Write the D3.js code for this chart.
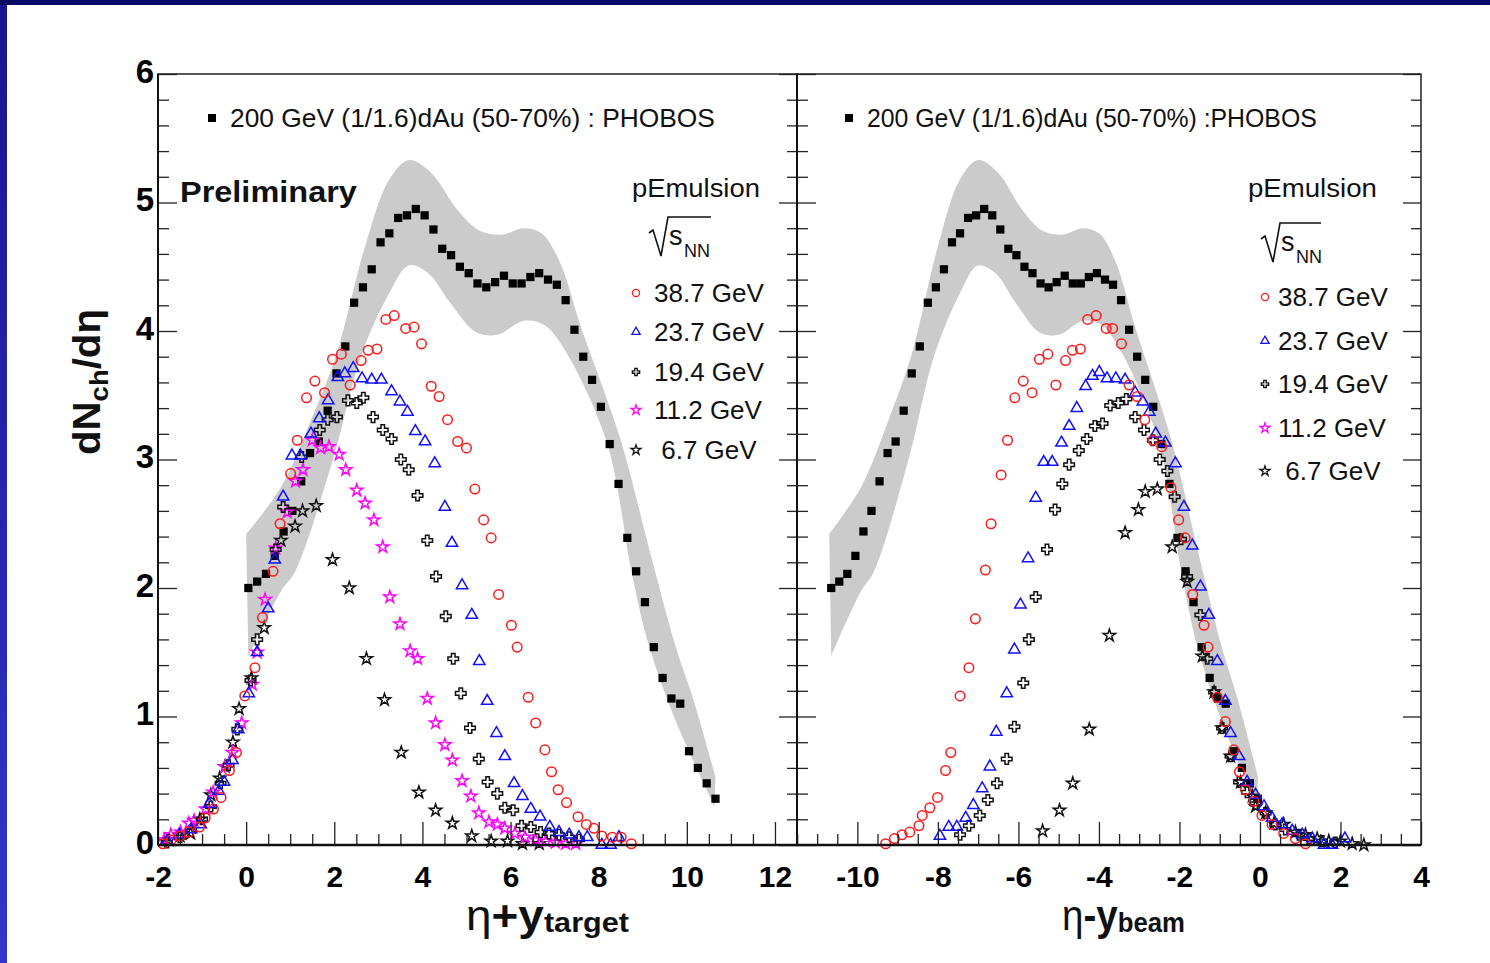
<!DOCTYPE html>
<html>
<head>
<meta charset="utf-8">
<script src="https://cdn.jsdelivr.net/npm/d3@7"></script>
<style>
  body { margin: 0; background: #fff; }
  text { font-family: "Liberation Sans", Arial, Helvetica, sans-serif; }
</style>
</head>
<body>
<div id="chart"></div>
<script>

// ---------- data ----------

// PHOBOS dAu 200 GeV (scaled 1/1.6), plotted vs eta + y_target
const dAuX = [0.05, 0.25, 0.45, 0.65, 0.85, 1.05, 1.25, 1.45, 1.65, 1.85, 2.05, 2.25, 2.45, 2.65,
  2.85, 3.05, 3.25, 3.45, 3.65, 3.85, 4.05, 4.25, 4.45, 4.65, 4.85, 5.05, 5.25, 5.45, 5.65, 5.85,
  6.05, 6.25, 6.45, 6.65, 6.85, 7.05, 7.25, 7.45, 7.65, 7.85, 8.05, 8.25, 8.45, 8.65, 8.85, 9.05,
  9.25, 9.45, 9.65, 9.85, 10.05, 10.25, 10.45, 10.65];
const dAuY = [2.00, 2.05, 2.11, 2.25, 2.44, 2.60, 2.83, 3.05, 3.14, 3.38, 3.67, 3.88, 4.22, 4.34,
  4.48, 4.69, 4.76, 4.88, 4.90, 4.95, 4.90, 4.79, 4.64, 4.59, 4.50, 4.45, 4.37, 4.34, 4.38, 4.43,
  4.37, 4.37, 4.42, 4.45, 4.40, 4.36, 4.24, 4.01, 3.80, 3.62, 3.41, 3.12, 2.81, 2.39, 2.13, 1.89,
  1.54, 1.30, 1.14, 1.10, 0.73, 0.60, 0.48, 0.36];
// same dAu points moved to eta - y_beam in the right panel
const dAuShiftBeam = -10.7;

// systematic band of the dAu points (upper and lower edge)
const bandUpX = [0.0, 0.8, 1.5, 2.05, 2.7, 3.25, 3.7, 4.2, 4.8, 5.3, 5.8, 6.3, 6.7, 7.1, 7.6, 8.5, 9.15, 9.75, 10.15, 10.65];
const bandUpY = [2.42, 2.79, 3.33, 3.82, 4.66, 5.18, 5.33, 5.23, 4.94, 4.78, 4.75, 4.80, 4.76, 4.55, 4.03, 3.15, 2.30, 1.54, 1.13, 0.53];
const bandLoX = [0.05, 0.8, 1.1, 1.97, 2.6, 3.24, 3.69, 4.13, 4.63, 5.22, 5.7, 6.3, 6.75, 7.18, 8.17, 8.76, 9.15, 9.74, 10.63];
const bandLoY = [1.47, 1.98, 2.12, 3.00, 3.80, 4.29, 4.51, 4.45, 4.22, 3.99, 3.97, 4.08, 4.05, 3.88, 3.15, 2.10, 1.54, 0.97, 0.30];

// p + emulsion, eta + y_target (left panel)
const tgt387 = [[-1.89,0.01],[-1.7,0.04],[-1.5,0.07],[-1.3,0.10],[-1.06,0.14],[-0.93,0.21],[-0.74,0.28],
  [-0.57,0.37],[-0.38,0.58],[-0.22,0.72],[-0.03,1.16],[0.20,1.38],[0.37,1.77],[0.61,2.13],[0.77,2.50],
  [1.01,2.89],[1.16,3.15],[1.37,3.48],[1.56,3.61],[1.78,3.52],[1.96,3.78],[2.16,3.82],[2.36,3.58],
  [2.61,3.77],[2.77,3.85],[2.97,3.86],[3.17,4.09],[3.36,4.12],[3.62,4.02],[3.81,4.03],[3.98,3.90],
  [4.20,3.57],[4.38,3.49],[4.57,3.31],[4.80,3.14],[5.00,3.09],[5.19,2.77],[5.39,2.53],[5.56,2.39],
  [5.73,1.95],[6.02,1.71],[6.15,1.54],[6.40,1.15],[6.57,0.95],[6.78,0.74],[6.93,0.57],[7.08,0.43],
  [7.27,0.33],[7.53,0.22],[7.72,0.16],[7.89,0.13],[8.07,0.07],[8.31,0.06],[8.51,0.06],[8.74,0.01]];
const tgt237 = [[-1.79,0.03],[-1.52,0.08],[-1.25,0.12],[-1.03,0.16],[-0.84,0.32],[-0.62,0.42],[-0.50,0.49],
  [-0.31,0.66],[-0.18,0.90],[0.06,1.18],[0.25,1.50],[0.50,1.84],[0.65,2.22],[0.84,2.71],[1.04,3.03],
  [1.23,3.03],[1.47,3.20],[1.66,3.32],[1.86,3.46],[2.08,3.64],[2.24,3.67],[2.43,3.71],[2.63,3.63],
  [2.85,3.62],[3.07,3.62],[3.30,3.53],[3.49,3.45],[3.66,3.37],[3.84,3.22],[4.06,3.14],[4.28,2.97],
  [4.51,2.63],[4.67,2.35],[4.90,2.02],[5.12,1.79],[5.29,1.43],[5.47,1.12],[5.68,0.87],[5.87,0.69],
  [6.08,0.48],[6.27,0.38],[6.46,0.28],[6.67,0.22],[6.89,0.14],[7.10,0.10],[7.33,0.08],[7.55,0.06],
  [7.74,0.06],[8.07,0.00],[8.27,0.00],[8.46,0.06]];
const tgt194 = [[-1.8,0.02],[-1.5,0.06],[-1.25,0.11],[-1.0,0.20],[-0.8,0.30],[-0.58,0.48],[-0.4,0.62],
  [-0.2,0.90],[0.10,1.28],[0.25,1.60],[0.67,2.30],[0.84,2.63],[1.26,3.02],[1.67,3.23],[1.85,3.31],
  [2.06,3.33],[2.31,3.46],[2.51,3.44],[2.66,3.48],[2.88,3.33],[3.10,3.23],[3.30,3.16],[3.51,3.00],
  [3.69,2.92],[3.89,2.72],[4.11,2.37],[4.31,2.09],[4.53,1.78],[4.70,1.45],[4.87,1.18],[5.08,0.91],
  [5.28,0.67],[5.48,0.49],[5.70,0.40],[5.87,0.29],[6.06,0.27],[6.25,0.15],[6.46,0.14],[6.68,0.10],
  [6.87,0.09],[7.10,0.08],[7.33,0.06],[7.55,0.04]];
const tgt112 = [[-1.86,0.04],[-1.71,0.08],[-1.49,0.10],[-1.30,0.17],[-1.18,0.19],[-0.92,0.28],[-0.75,0.41],
  [-0.48,0.61],[-0.31,0.72],[-0.10,0.95],[0.14,1.25],[0.25,1.50],[0.43,1.91],[0.67,2.31],[0.93,2.59],
  [1.12,2.83],[1.29,2.92],[1.50,3.15],[1.69,3.09],[1.88,3.10],[2.11,3.04],[2.26,2.92],[2.51,2.76],
  [2.70,2.66],[2.90,2.53],[3.10,2.32],[3.26,1.93],[3.49,1.72],[3.72,1.51],[3.89,1.45],[4.11,1.14],
  [4.30,0.95],[4.51,0.78],[4.68,0.66],[4.90,0.50],[5.10,0.38],[5.28,0.25],[5.51,0.18],[5.70,0.16],
  [5.87,0.13],[6.10,0.09],[6.33,0.06],[6.57,0.04],[6.80,0.03],[7.02,0.02],[7.25,0.01],[7.48,0.01]];
const tgt67 = [[-1.75,0.04],[-1.5,0.07],[-1.26,0.09],[-1.05,0.20],[-0.80,0.39],[-0.60,0.52],[-0.48,0.61],
  [-0.30,0.80],[-0.16,1.06],[0.12,1.30],[0.41,1.69],[0.79,2.37],[1.11,2.48],[1.28,2.60],[1.59,2.64],
  [1.96,2.22],[2.34,2.00],[2.73,1.45],[3.14,1.13],[3.52,0.72],[3.92,0.41],[4.30,0.27],[4.68,0.17],
  [5.12,0.07],[5.56,0.03],[5.93,0.03],[6.27,0.01],[6.65,0.01]];

// p + emulsion, eta - y_beam (right panel)
const beam387 = [[-9.30,0.01],[-9.08,0.05],[-8.89,0.08],[-8.70,0.10],[-8.47,0.15],[-8.39,0.23],[-8.20,0.29],
  [-8.01,0.37],[-7.81,0.58],[-7.68,0.72],[-7.45,1.16],[-7.23,1.38],[-7.07,1.76],[-6.82,2.14],[-6.68,2.50],
  [-6.43,2.88],[-6.27,3.15],[-6.09,3.48],[-5.88,3.61],[-5.66,3.52],[-5.48,3.78],[-5.27,3.82],[-5.07,3.58],
  [-4.83,3.77],[-4.66,3.85],[-4.46,3.86],[-4.28,4.09],[-4.07,4.12],[-3.82,4.02],[-3.66,4.02],[-3.44,3.90],
  [-3.25,3.58],[-3.05,3.49],[-2.86,3.31],[-2.66,3.15],[-2.44,3.10],[-2.21,2.78],[-2.02,2.53],[-1.86,2.39],
  [-1.67,1.95],[-1.39,1.71],[-1.29,1.54],[-1.06,1.15],[-0.86,0.96],[-0.65,0.74],[-0.51,0.57],[-0.36,0.43],
  [-0.15,0.34],[0.05,0.23],[0.30,0.16],[0.59,0.09],[0.88,0.05],[1.13,0.01]];
const beam237 = [[-7.95,0.07],[-7.73,0.14],[-7.53,0.14],[-7.31,0.21],[-7.12,0.31],[-6.90,0.44],[-6.71,0.61],
  [-6.55,0.88],[-6.29,1.18],[-6.10,1.52],[-5.95,1.87],[-5.76,2.23],[-5.57,2.70],[-5.37,2.98],[-5.16,2.98],
  [-4.93,3.13],[-4.74,3.26],[-4.55,3.40],[-4.33,3.57],[-4.16,3.65],[-3.99,3.68],[-3.80,3.63],[-3.58,3.63],
  [-3.35,3.62],[-3.10,3.52],[-2.91,3.45],[-2.75,3.37],[-2.59,3.20],[-2.35,3.13],[-2.10,2.97],[-1.89,2.63],
  [-1.68,2.33],[-1.48,2.01],[-1.27,1.79],[-1.06,1.43],[-0.86,1.12],[-0.73,0.87],[-0.52,0.69],[-0.32,0.49],
  [-0.11,0.39],[0.10,0.30],[0.30,0.21],[0.55,0.16],[0.80,0.11],[1.05,0.08],[1.30,0.05],[1.59,0.00],
  [1.79,0.00],[2.11,0.05]];
const beam194 = [[-7.45,0.08],[-7.23,0.15],[-6.96,0.23],[-6.76,0.35],[-6.53,0.48],[-6.29,0.67],[-6.10,0.92],
  [-5.88,1.26],[-5.74,1.60],[-5.57,1.93],[-5.29,2.30],[-5.09,2.61],[-4.91,2.81],[-4.74,2.96],[-4.50,3.07],
  [-4.30,3.16],[-4.10,3.26],[-3.91,3.28],[-3.72,3.42],[-3.52,3.44],[-3.32,3.47],[-3.10,3.33],[-2.88,3.23],
  [-2.66,3.15],[-2.49,3.00],[-2.30,2.91],[-2.12,2.71],[-1.96,2.38],[-1.81,2.09],[-1.48,1.79],[-1.31,1.45],
  [-1.14,1.19],[-0.94,0.91],[-0.73,0.69],[-0.52,0.49],[-0.32,0.41],[-0.11,0.32],[0.14,0.25],[0.38,0.16],
  [0.63,0.12],[0.97,0.08],[1.22,0.05],[1.54,0.03],[1.87,0.02]];
const beam67 = [[-5.40,0.11],[-4.98,0.27],[-4.65,0.48],[-4.24,0.90],[-3.74,1.63],[-3.35,2.43],[-3.02,2.61],
  [-2.85,2.75],[-2.55,2.77],[-2.18,2.32],[-1.81,2.05],[-1.43,1.47],[-1.14,1.19],[-0.94,0.91],[-0.73,0.69],
  [-0.48,0.49],[-0.19,0.38],[-0.11,0.30],[0.14,0.25],[0.35,0.17],[0.59,0.16],[0.88,0.10],[1.13,0.08],
  [1.42,0.05],[1.71,0.03],[2.00,0.03],[2.29,0.01],[2.58,0.00]];

const energyLabels = ['38.7 GeV', '23.7 GeV', '19.4 GeV', '11.2 GeV', ' 6.7 GeV'];
const dAuLabelLeft = '200 GeV (1/1.6)dAu (50-70%) : PHOBOS';
const dAuLabelRight = '200 GeV (1/1.6)dAu (50-70%) :PHOBOS';

// tick values
const yMajor = [0, 1, 2, 3, 4, 5, 6];
const xMajorLeft = [-2, 0, 2, 4, 6, 8, 10, 12];
const xMajorRight = [-10, -8, -6, -4, -2, 0, 2, 4];

// ---------- page ----------
const W = 1490, H = 963;
const svg = d3.select('#chart').append('svg')
  .attr('width', W).attr('height', H);

// slide border
const grad = svg.append('defs').append('linearGradient')
  .attr('id', 'side').attr('x1', 0).attr('y1', 0).attr('x2', 0).attr('y2', 1);
grad.append('stop').attr('offset', '0%').attr('stop-color', '#16168a');
grad.append('stop').attr('offset', '100%').attr('stop-color', '#3434cc');
svg.append('rect').attr('x', 0).attr('y', 0).attr('width', W).attr('height', H).attr('fill', '#fff');
svg.append('rect').attr('x', 0).attr('y', 0).attr('width', 7).attr('height', H).attr('fill', 'url(#side)');
svg.append('rect').attr('x', 0).attr('y', 0).attr('width', W).attr('height', 5).attr('fill', '#0a0a66');

// scales
const y = d3.scaleLinear().domain([0, 6]).range([845, 74]);
const xL = d3.scaleLinear().domain([-2, 12.5]).range([158, 797]);
const xR = d3.scaleLinear().domain([-11.5, 4]).range([797, 1421]);

// marker styles
const styles = {
  dAu:  { sym: d3.symbol().type(d3.symbolSquare).size(68), color: '#000', fill: true },
  e387: { sym: d3.symbol().type(d3.symbolCircle).size(72), color: '#ff1a1a', fill: false },
  e237: { sym: d3.symbol().type(d3.symbolTriangle).size(56), color: '#1010ff', fill: false },
  e194: { sym: d3.symbol().type(d3.symbolCross).size(62), color: '#111', fill: false },
  e112: { sym: d3.symbol().type(d3.symbolStar).size(46), color: '#ff00ff', fill: false },
  e67:  { sym: d3.symbol().type(d3.symbolStar).size(46), color: '#111', fill: false }
};
const legendKeys = ['e387', 'e237', 'e194', 'e112', 'e67'];
const legendSizes = [40, 30, 30, 30, 30];

// stretch a text element horizontally so it spans the given width
function fit(sel, width) {
  const bb = sel.node().getBBox();
  const k = width / bb.width;
  sel.attr('transform', `translate(${bb.x},0) scale(${k},1) translate(${-bb.x},0)`);
}

function drawPoints(g, x, pts, st) {
  g.append('g').selectAll('path')
    .data(pts)
    .join('path')
    .attr('transform', d => `translate(${x(d[0])},${y(d[1])})`)
    .attr('d', st.sym)
    .attr('fill', st.fill ? st.color : 'none')
    .attr('stroke', st.fill ? 'none' : st.color)
    .attr('stroke-width', 1.5);
}

function drawBand(g, x, shift) {
  const line = d3.line()
    .x(d => x(d[0] + shift)).y(d => y(d[1]))
    .curve(d3.curveCatmullRom.alpha(0.5));
  const up = bandUpX.map((v, i) => [v, bandUpY[i]]);
  const lo = bandLoX.map((v, i) => [v, bandLoY[i]]).reverse();
  const p = line(up) + line(lo).replace(/^M/, 'L') + 'Z';
  g.append('path').attr('d', p).attr('fill', '#cbcbcb');
}

function drawAxes(g, x, xMajor, x0, x1, leftLabels) {
  const xMinor = d3.range(x0, x1 + 0.01, 0.5).filter(v => !xMajor.includes(v));
  const yMinor = d3.range(1, 30).map(i => i / 5).filter(v => !yMajor.includes(v));

  const tidy = a => {
    a.select('.domain').remove();
    a.selectAll('.tick line').attr('stroke', '#222').attr('stroke-width', 1.3);
  };

  // bottom
  g.append('g').attr('transform', `translate(0,${y(0)})`)
    .call(d3.axisBottom(x).tickValues(xMinor).tickSize(-11).tickFormat(''))
    .call(tidy);
  const bx = g.append('g').attr('transform', `translate(0,${y(0)})`)
    .call(d3.axisBottom(x).tickValues(xMajor).tickSize(-23).tickPadding(21).tickFormat(d => String(d)))
    .call(tidy);
  bx.selectAll('text')
    .attr('fill', '#000').attr('font-size', 30).attr('font-weight', 'bold')
    .attr('font-family', '"Liberation Sans", Arial, sans-serif');

  // left side of panel (ticks point right)
  g.append('g').attr('transform', `translate(${x.range()[0]},0)`)
    .call(d3.axisLeft(y).tickValues(yMinor).tickSize(-11).tickFormat(''))
    .call(tidy);
  const ly = g.append('g').attr('transform', `translate(${x.range()[0]},0)`)
    .call(d3.axisLeft(y).tickValues(yMajor).tickSize(-19).tickPadding(4).tickFormat(d => String(d)))
    .call(tidy);
  if (leftLabels) {
    ly.selectAll('text')
      .attr('fill', '#000').attr('font-size', 33).attr('font-weight', 'bold')
      .attr('font-family', '"Liberation Sans", Arial, sans-serif')
      .attr('dy', '0.25em');
  } else {
    ly.selectAll('text').remove();
  }

  // right side of panel (ticks point left)
  g.append('g').attr('transform', `translate(${x.range()[1]},0)`)
    .call(d3.axisRight(y).tickValues(yMinor).tickSize(-10).tickFormat(''))
    .call(tidy);
  g.append('g').attr('transform', `translate(${x.range()[1]},0)`)
    .call(d3.axisRight(y).tickValues(yMajor).tickSize(-18).tickFormat(''))
    .call(tidy);

  // frame
  g.append('rect')
    .attr('x', x.range()[0]).attr('y', y(6))
    .attr('width', x.range()[1] - x.range()[0]).attr('height', y(0) - y(6))
    .attr('fill', 'none').attr('stroke', '#222').attr('stroke-width', 1.5);
  g.append('line')
    .attr('x1', x.range()[0]).attr('x2', x.range()[1])
    .attr('y1', y(0)).attr('y2', y(0))
    .attr('stroke', '#111').attr('stroke-width', 2.6);
  g.append('line')
    .attr('x1', x.range()[0]).attr('x2', x.range()[0])
    .attr('y1', y(0)).attr('y2', y(6))
    .attr('stroke', '#111').attr('stroke-width', 2);
}

function drawLegend(g, o) {
  // dAu entry
  g.append('rect').attr('x', o.sqX - 4).attr('y', 114).attr('width', 8).attr('height', 8).attr('fill', '#000');
  fit(g.append('text').attr('x', o.sqX + 18).attr('y', 127).attr('font-size', 25)
    .attr('fill', '#111').text(o.dAuText), o.dAuW);

  // pEmulsion header
  fit(g.append('text').attr('x', o.pX).attr('y', 197).attr('font-size', 25)
    .attr('fill', '#111').text('pEmulsion'), o.pW);

  // sqrt(s_NN)
  const r = o.rad;
  g.append('path')
    .attr('d', d3.line()([[r.x0, r.yTop + 16], [r.x0 + 4, r.yTop + 13], [r.x0 + 12, r.yTop + 39],
      [r.x0 + 19, r.yTop], [r.x1, r.yTop]]))
    .attr('fill', 'none').attr('stroke', '#111').attr('stroke-width', 1.6);
  g.append('text').attr('x', r.x0 + 20).attr('y', r.yTop + 28).attr('font-size', 27)
    .attr('fill', '#111').text('s');
  g.append('text').attr('x', r.x0 + 35).attr('y', r.yTop + 40).attr('font-size', 18)
    .attr('fill', '#111').text('NN');

  legendKeys.forEach((k, i) => {
    const st = styles[k];
    const cy = o.rows[i];
    g.append('path')
      .attr('transform', `translate(${o.mX},${cy})`)
      .attr('d', d3.symbol().type(st.sym.type()).size(legendSizes[i])())
      .attr('fill', 'none').attr('stroke', st.color).attr('stroke-width', 1.3);
    g.append('text')
      .attr('x', o.tX).attr('y', cy + 9)
      .attr('font-size', 26).attr('fill', '#111')
      .style('white-space', 'pre')
      .text(energyLabels[i]);
  });
}

// ---------- left panel: eta + y_target ----------
const gl = svg.append('g');
drawBand(gl, xL, 0);
drawPoints(gl, xL, dAuX.map((v, i) => [v, dAuY[i]]), styles.dAu);
drawPoints(gl, xL, tgt67, styles.e67);
drawPoints(gl, xL, tgt112, styles.e112);
drawPoints(gl, xL, tgt194, styles.e194);
drawPoints(gl, xL, tgt237, styles.e237);
drawPoints(gl, xL, tgt387, styles.e387);
drawAxes(gl, xL, xMajorLeft, -2, 12.5, true);

// ---------- right panel: eta - y_beam ----------
const gr = svg.append('g');
drawBand(gr, xR, dAuShiftBeam);
drawPoints(gr, xR, dAuX.map((v, i) => [v + dAuShiftBeam, dAuY[i]]), styles.dAu);
drawPoints(gr, xR, beam67, styles.e67);
drawPoints(gr, xR, beam194, styles.e194);
drawPoints(gr, xR, beam237, styles.e237);
drawPoints(gr, xR, beam387, styles.e387);
drawAxes(gr, xR, xMajorRight, -11.5, 4, false);

// ---------- legends ----------
drawLegend(gl, {
  sqX: 212, dAuText: dAuLabelLeft, dAuW: 485,
  pX: 632, pW: 128,
  rad: { x0: 649, x1: 711, yTop: 217 },
  mX: 636, tX: 654, rows: [293, 332, 372, 410, 450]
});
drawLegend(gr, {
  sqX: 849, dAuText: dAuLabelRight, dAuW: 450,
  pX: 1248, pW: 129,
  rad: { x0: 1261, x1: 1321, yTop: 223 },
  mX: 1265, tX: 1278, rows: [297, 341, 384, 428, 471]
});

fit(gl.append('text').attr('x', 180).attr('y', 202)
  .attr('font-size', 29).attr('font-weight', 'bold').attr('fill', '#111')
  .text('Preliminary'), 177);

// ---------- axis titles ----------
const yt = svg.append('g').attr('transform', 'translate(100,455) rotate(-90)');
const ytText = yt.append('text').attr('x', 0).attr('y', 0)
  .attr('font-size', 38).attr('font-weight', 'bold').attr('fill', '#111');
ytText.append('tspan').text('dN');
ytText.append('tspan').attr('font-size', 26).attr('dy', 8).text('ch');
ytText.append('tspan').attr('dy', -8).text('/d\u03b7');
fit(ytText, 146);

function xTitle(x0, width, sign, sub) {
  const t = svg.append('text').attr('x', x0).attr('y', 930)
    .attr('font-size', 42).attr('font-weight', 'bold').attr('fill', '#111');
  t.append('tspan').attr('font-weight', 'normal').text('\u03b7');
  t.append('tspan').text(sign + 'y');
  t.append('tspan').attr('font-size', 28).attr('dy', 2).text(sub);
  fit(t, width);
}
xTitle(466, 163, '+', 'target');
xTitle(1062, 123, '-', 'beam');

</script>
</body>
</html>
